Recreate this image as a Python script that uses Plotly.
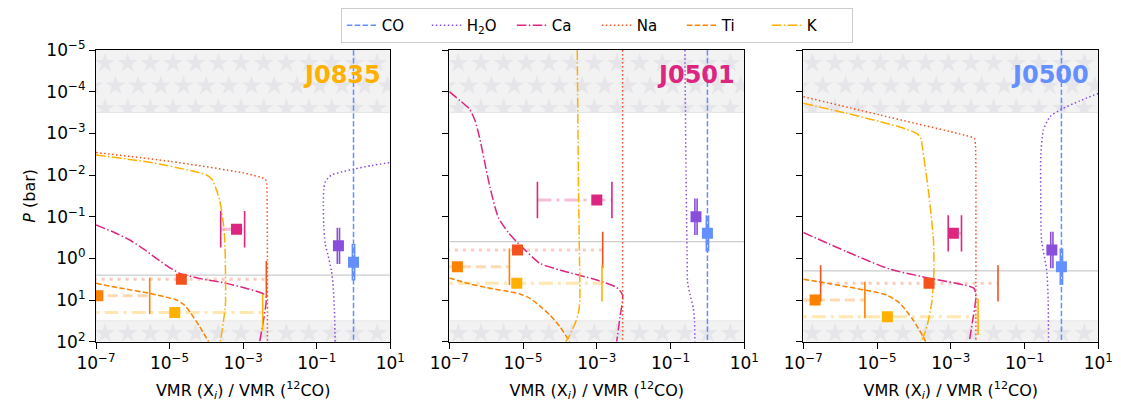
import numpy as np
import plotly.graph_objects as go

# ---------------- data (log10 values) ----------------
SPECIES = ["CO", "H2O", "Ca", "Na", "Ti", "K"]
LEGEND_NAMES = ["CO", "H<sub>2</sub>O", "Ca", "Na", "Ti", "K"]
TARGETS = ["J0835", "J0501", "J0500"]
TARGET_COLORS = ["#FFB000", "#DC267F", "#648FFF"]

X_TICKVALS = [1e-7, 1e-5, 1e-3, 1e-1, 1e1]
X_TICKTEXT = ["10<sup>−7</sup>", "10<sup>−5</sup>", "10<sup>−3</sup>", "10<sup>−1</sup>", "10<sup>1</sup>"]
Y_TICKVALS = [1e-5, 1e-4, 1e-3, 1e-2, 1e-1, 1e0, 1e1, 1e2]
Y_TICKTEXT = ["10<sup>−5</sup>", "10<sup>−4</sup>", "10<sup>−3</sup>", "10<sup>−2</sup>",
              "10<sup>−1</sup>", "10<sup>0</sup>", "10<sup>1</sup>", "10<sup>2</sup>"]

# model abundance profiles: (log10 VMR ratio list, log10 P list)
PROF_J0835 = {
    "CO": ([0, 0], [-5, 2]),
    "H2O": ([-0.50, -0.52, -0.56, -0.60, -0.70, -0.77, -0.81, -0.82, -0.81, -0.76, -0.60, -0.30, 0.0, 0.5, 1.0],
            [2.0, 1.2, 0.6, 0.3, -0.1, -0.35, -0.8, -1.3, -1.65, -1.85, -2.0, -2.08, -2.14, -2.23, -2.3]),
    "Ca": ([-7, -6.5, -6.08, -5.7, -5.36, -5.0, -4.72, -4.2, -3.55, -3.0, -2.47, -2.38, -2.38, -2.45, -2.55],
           [-0.8, -0.62, -0.44, -0.22, 0.0, 0.22, 0.36, 0.48, 0.58, 0.7, 0.84, 0.92, 1.1, 1.5, 2.0]),
    "Na": ([-7, -5, -3, -2.4, -2.36, -2.35, -2.34, -2.34],
           [-2.54, -2.33, -2.05, -1.9, -1.8, -1.5, 0.0, 2.0]),
    "Ti": ([-7, -6.3, -5.54, -5.1, -4.81, -4.6, -4.45, -4.18, -3.94],
           [0.6, 0.72, 0.84, 0.93, 1.0, 1.12, 1.28, 1.64, 2.0]),
    "K": ([-7, -5.5, -4.4, -4.0, -3.85, -3.75, -3.64, -3.55, -3.5, -3.48, -3.48, -3.53, -3.62],
          [-2.48, -2.3, -2.1, -2.0, -1.9, -1.7, -1.4, -0.92, -0.44, 0.36, 1.08, 1.48, 2.0]),
}
PROF_J0501 = {
    "CO": ([0, 0], [-5, 2]),
    "H2O": ([-0.61, -0.58, -0.55, -0.54, -0.47, -0.38, -0.35, -0.34],
            [-5, -2, 0.0, 0.56, 0.88, 1.2, 1.5, 2.0]),
    "Ca": ([-7, -6.7, -6.45, -6.3, -6.18, -6.05, -5.9, -5.67, -5.4, -5.13, -4.54, -4.0, -3.0, -2.46, -2.3, -2.37, -2.46],
           [-4.0, -3.78, -3.58, -3.3, -2.9, -2.35, -1.72, -0.98, -0.62, -0.36, 0.12, 0.28, 0.52, 0.70, 0.88, 1.4, 2.0]),
    "Na": ([-2.30, -2.30], [-5, 2]),
    "Ti": ([-7, -6.5, -6.0, -5.5, -5.1, -4.81, -4.55, -4.27, -4.0, -3.82, -3.74],
           [0.47, 0.6, 0.7, 0.78, 0.85, 0.96, 1.14, 1.36, 1.64, 1.88, 2.0]),
    "K": ([-3.53, -3.50, -3.47, -3.46, -3.50, -3.59, -3.73, -3.84],
          [-5, -2, 0, 1.0, 1.32, 1.56, 1.84, 2.0]),
}
PROF_J0500 = {
    "CO": ([0, 0], [-5, 2]),
    "H2O": ([1.0, 0.5, 0.0, -0.31, -0.49, -0.56, -0.56, -0.54, -0.40, -0.36, -0.35],
            [-3.96, -3.78, -3.58, -3.4, -3.08, -2.44, -1.5, -0.44, 0.28, 1.0, 2.0]),
    "Ca": ([-7, -5.82, -4.65, -3.56, -2.37, -2.32, -2.39, -2.50],
           [-0.62, -0.16, 0.26, 0.48, 0.72, 0.92, 1.4, 2.0]),
    "Na": ([-7, -4.92, -2.6, -2.36, -2.33, -2.32, -2.32],
           [-3.88, -3.44, -2.95, -2.88, -2.7, -2.0, 2.0]),
    "Ti": ([-7, -5.82, -4.74, -4.38, -4.02, -3.75, -3.68],
           [0.50, 0.68, 0.88, 1.08, 1.48, 1.88, 2.0]),
    "K": ([-7, -5.82, -4.92, -4.2, -3.93, -3.82, -3.76, -3.68, -3.61, -3.47, -3.46, -3.52, -3.65, -3.79],
          [-3.72, -3.48, -3.28, -3.1, -3.0, -2.9, -2.6, -2.1, -1.64, -0.44, 0.36, 1.08, 1.64, 2.0]),
}
PROFILES = [PROF_J0835, PROF_J0501, PROF_J0500]

# retrieved values (order = SPECIES): log10 X, log10 P, lower / upper bound (None = no lower bound)
RET_X_J0835 = [0.0, -0.41, -3.18, -4.68, -6.95, -4.86]
RET_P_J0835 = [0.095, -0.30, -0.70, 0.50, 0.90, 1.30]
RET_LO_J0835 = [-0.03, -0.44, -3.61, None, None, None]
RET_HI_J0835 = [0.03, -0.38, -2.96, -2.37, -5.54, -2.47]

RET_X_J0501 = [0.0, -0.31, -3.0, -5.15, -6.78, -5.17]
RET_P_J0501 = [-0.6, -1.0, -1.4, -0.2, 0.2, 0.6]
RET_LO_J0501 = [-0.03, -0.34, -4.61, None, None, None]
RET_HI_J0501 = [0.03, -0.28, -2.59, -2.84, -5.37, -2.86]

RET_X_J0500 = [0.0, -0.26, -2.93, -3.59, -6.68, -4.72]
RET_P_J0500 = [0.2, -0.2, -0.6, 0.6, 1.0, 1.4]
RET_LO_J0500 = [-0.03, -0.29, -3.07, -6.53, None, None]
RET_HI_J0500 = [0.03, -0.23, -2.71, -1.72, -5.33, -2.26]

RET_X = [RET_X_J0835, RET_X_J0501, RET_X_J0500]
RET_P = [RET_P_J0835, RET_P_J0501, RET_P_J0500]
RET_LO = [RET_LO_J0835, RET_LO_J0501, RET_LO_J0500]
RET_HI = [RET_HI_J0835, RET_HI_J0501, RET_HI_J0500]

# photosphere pressure (log10 bar)
PHOT_P = [0.40, -0.40, 0.30]
# shaded (unconstrained) pressure limits, log10 bar
BAND_TOP = -3.5
BAND_BOT = 1.5

X_RANGE = [-7, 1]
Y_RANGE = [2, -5]

# ---------------- styles ----------------
COLORS = {"CO": "#648FFF", "H2O": "#8A4FDA", "Ca": "#DC267F", "Na": "#F4511E",
          "Ti": "#FB8200", "K": "#FFB000"}
FADED = {"CO": "rgba(100,143,255,0.3)", "H2O": "rgba(138,79,218,0.3)", "Ca": "rgba(220,38,127,0.3)",
         "Na": "rgba(244,81,30,0.3)", "Ti": "rgba(251,130,0,0.3)", "K": "rgba(255,176,0,0.3)"}
DASH = {"CO": "5.5px,2.4px", "H2O": "1.5px,2.5px", "Ca": "9.6px,2.4px,1.5px,2.4px",
        "Na": "1.5px,2.5px", "Ti": "5.5px,2.4px", "K": "9.6px,2.4px,1.5px,2.4px"}
DASH_WIDE = {"CO": "10px,5px", "H2O": "3px,5px", "Ca": "14px,5px,3px,5px",
             "Na": "3px,5px", "Ti": "10px,5px", "K": "14px,5px,3px,5px"}

FONT = "DejaVu Sans"
# page body has an 8px margin: the figure is placed at (8, 8)
OFF = 8
W, H = 1121 - 2 * OFF, 410 - 2 * OFF
X_DOMAINS = [[(96 - OFF) / W, (390.3 - OFF) / W],
             [(449.3 - OFF) / W, (744.3 - OFF) / W],
             [(803.3 - OFF) / W, (1098.3 - OFF) / W]]
Y_DOMAIN = [1 - (341.7 - OFF) / H, 1 - (50 - OFF) / H]

fig = go.Figure()


def star_texture(panel_w, panel_h):
    xs, ys = [], []
    step_x, step_y = 22.67, 22.5
    for k in range(14):
        py = 13.3 + step_y * k
        if not (py < 75 or py > 260):
            continue
        off = 9 if k % 2 == 0 else 19.5
        px = off - step_x
        while px < panel_w + 12:
            xs.append(X_RANGE[0] + (X_RANGE[1] - X_RANGE[0]) * px / panel_w)
            ys.append(-5 + 7 * py / panel_h)
            px += step_x
    return 10 ** np.array(xs), 10 ** np.array(ys)


for i, tgt in enumerate(TARGETS):
    xa = "x" if i == 0 else f"x{i+1}"
    ya = "y" if i == 0 else f"y{i+1}"
    pw = (X_DOMAINS[i][1] - X_DOMAINS[i][0]) * W
    ph = (Y_DOMAIN[1] - Y_DOMAIN[0]) * H
    common = dict(xaxis=xa, yaxis=ya, hoverinfo="skip", showlegend=False)

    # star texture
    sx, sy = star_texture(pw, ph)
    fig.add_trace(go.Scatter(x=sx, y=sy, mode="markers",
                             marker=dict(symbol="star", size=15, color="#e6e6ea", line=dict(width=0)),
                             **common))
    # white middle region
    xmin, xmax = 10 ** X_RANGE[0], 10 ** X_RANGE[1]
    fig.add_trace(go.Scatter(x=[xmin, xmax, xmax, xmin, xmin],
                             y=[10 ** BAND_TOP, 10 ** BAND_TOP, 10 ** BAND_BOT, 10 ** BAND_BOT, 10 ** BAND_TOP],
                             mode="lines", fill="toself", fillcolor="white",
                             line=dict(color="#e6e6e6", width=1), **common))
    # photosphere line
    fig.add_trace(go.Scatter(x=[xmin, xmax], y=[10 ** PHOT_P[i]] * 2, mode="lines",
                             line=dict(color="#cccccc", width=1.2), **common))

    # faded retrieval spans
    for j, sp in enumerate(SPECIES):
        lo = RET_LO[i][j] if RET_LO[i][j] is not None else X_RANGE[0] - 0.5
        hi = RET_HI[i][j]
        p = 10 ** RET_P[i][j]
        fig.add_trace(go.Scatter(x=[10 ** lo, 10 ** hi], y=[p, p], mode="lines",
                                 line=dict(color=FADED[sp], width=3, dash=DASH_WIDE[sp]), **common))

    # model profiles
    prof = PROFILES[i]
    for j, sp in enumerate(SPECIES):
        lx, lp = prof[sp]
        fig.add_trace(go.Scatter(x=10 ** np.array(lx, float), y=10 ** np.array(lp, float),
                                 mode="lines", name=LEGEND_NAMES[j],
                                 line=dict(color=COLORS[sp], width=1.5, dash=DASH[sp],
                                           shape="spline", smoothing=0.6),
                                 xaxis=xa, yaxis=ya, hoverinfo="skip",
                                 showlegend=(i == 0), legendrank=j + 1))

    # caps and markers
    for j, sp in enumerate(SPECIES):
        p = 10 ** RET_P[i][j]
        caps = [RET_HI[i][j]]
        if RET_LO[i][j] is not None:
            caps.append(RET_LO[i][j])
        fig.add_trace(go.Scatter(x=10 ** np.array(caps), y=[p] * len(caps), mode="markers",
                                 marker=dict(symbol="line-ns", size=26,
                                             line=dict(color=COLORS[sp], width=1.6)),
                                 **common))
        fig.add_trace(go.Scatter(x=[10 ** RET_X[i][j]], y=[p], mode="markers",
                                 marker=dict(symbol="square", size=11, color=COLORS[sp],
                                             line=dict(width=0)),
                                 **common))

    # target label
    fig.add_annotation(text=f"<b>{tgt}</b>", xref=f"{xa} domain", yref=f"{ya} domain",
                       x=0.975, y=0.915, xanchor="right", yanchor="middle", showarrow=False,
                       font=dict(family=FONT, size=24, color=TARGET_COLORS[i]))

    axis_common = dict(showline=True, linecolor="black", linewidth=1.2, mirror=True,
                       ticks="outside", ticklen=6, tickwidth=1.2, tickcolor="black",
                       showgrid=False, zeroline=False, type="log",
                       tickfont=dict(family=FONT, size=17, color="black"))
    xkey = "xaxis" if i == 0 else f"xaxis{i+1}"
    ykey = "yaxis" if i == 0 else f"yaxis{i+1}"
    ydict = dict(domain=Y_DOMAIN, range=Y_RANGE, anchor=xa,
                 tickmode="array", tickvals=Y_TICKVALS, **axis_common)
    if i == 0:
        ydict.update(ticktext=Y_TICKTEXT,
                     title=dict(text="<i>P</i> (bar)", font=dict(family=FONT, size=16, color="black"),
                                standoff=6))
    else:
        ydict.update(showticklabels=False)
    fig.update_layout(**{
        xkey: dict(domain=X_DOMAINS[i], range=X_RANGE, anchor=ya,
                   tickmode="array", tickvals=X_TICKVALS, ticktext=X_TICKTEXT,
                   title=dict(text="VMR (X<sub><i>i</i></sub>) / VMR (<sup>12</sup>CO)",
                              font=dict(family=FONT, size=16, color="black"), standoff=14),
                   **axis_common),
        ykey: ydict,
    })

fig.update_layout(
    width=W, height=H,
    margin=dict(l=0, r=0, t=0, b=0, autoexpand=False),
    paper_bgcolor="white", plot_bgcolor="#f2f2f2",
    font=dict(family=FONT, size=15, color="black"),
    legend=dict(orientation="h", x=(596.8 - OFF) / W, xanchor="center", y=1.0, yanchor="top",
                bordercolor="#cccccc", borderwidth=1, bgcolor="white",
                font=dict(family=FONT, size=15), itemwidth=30,
                entrywidth=40, entrywidthmode="pixels", traceorder="normal"),
)

fig.write_html("out.html")
